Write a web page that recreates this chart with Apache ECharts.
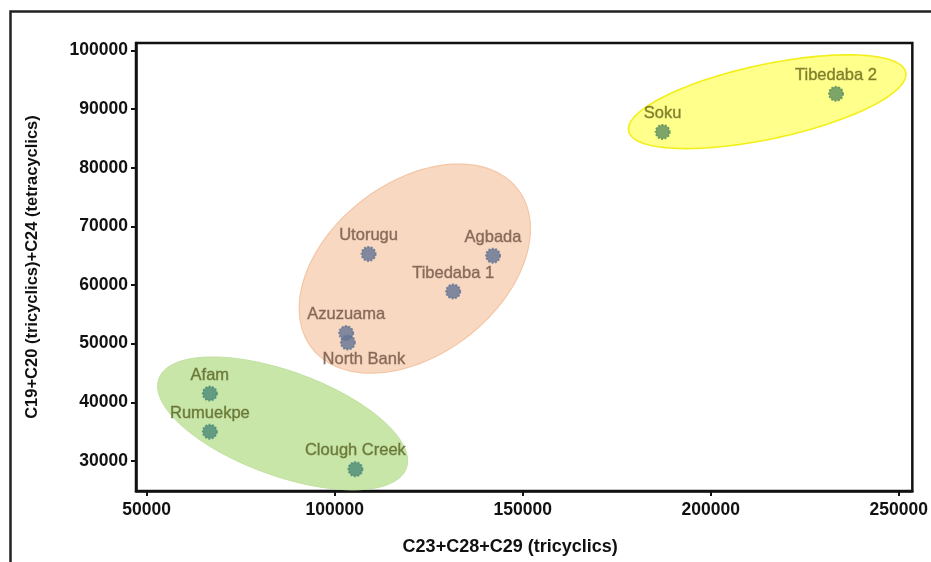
<!DOCTYPE html>
<html>
<head>
<meta charset="utf-8">
<script src="https://cdn.jsdelivr.net/npm/echarts@6/dist/echarts.min.js"></script>
<style>html,body{margin:0;padding:0;background:#fff;}#c{width:931px;height:562px;}</style>
</head>
<body>
<div id="c"></div>
<script>
// ---- data ----
const xTicks = [50000, 100000, 150000, 200000, 250000];
const yTicks = [30000, 40000, 50000, 60000, 70000, 80000, 90000, 100000];

const greenNames = ['Afam', 'Rumuekpe', 'Clough Creek'];
const greenX = [66800, 66800, 105500];
const greenY = [41500, 35000, 28600];

const orangeNames = ['Utorugu', 'Agbada', 'Tibedaba 1', 'Azuzuama', 'North Bank'];
const orangeX = [109000, 142100, 131500, 103050, 103500];
const orangeY = [65300, 65000, 58900, 51800, 50200];

const yellowNames = ['Soku', 'Tibedaba 2'];
const yellowX = [187200, 233300];
const yellowY = [86100, 92600];

// group ellipse centres (data units)
const ellipseX = [86150, 121300, 215000];
const ellipseY = [36400, 62800, 91250];

// ---- build ----
function pts(xs, ys, names) {
  return xs.map((x, i) => ({ value: [x, ys[i]], name: names[i] }));
}
const ellipseLook = [
  { a: 131.6, b: 52.2, ang: -19.9, fill: '#c8e6a8', stroke: '#c2e0a0', lw: 1 },
  { a: 130, b: 86, ang: 37.6, fill: '#f9d8c2', stroke: '#f3c6a6', lw: 1.2 },
  { a: 141.6, b: 37.3, ang: 12.0, fill: '#ffff8c', stroke: '#f2ef1a', lw: 1.6 }
];

const orangeData = pts(orangeX, orangeY, orangeNames);
orangeData[4].label = { position: 'bottom', distance: 0, offset: [16, 0] };

function labelStyle(color) {
  return {
    show: true, position: 'top', distance: 2,
    formatter: p => p.name,
    color: color, fontFamily: 'Liberation Sans, Arial, sans-serif',
    fontSize: 16.5, textBorderColor: 'rgba(50,40,20,0.35)', textBorderWidth: 0.8
  };
}
function markStyle(color) {
  return { color: color, borderColor: color, borderWidth: 2, borderType: [2, 1.5] };
}

const chart = echarts.init(document.getElementById('c'), null, { renderer: 'canvas' });
const axisFont = { fontFamily: 'Liberation Sans, Arial, sans-serif', fontWeight: 'bold', color: '#111' };

chart.setOption({
  animation: false,
  backgroundColor: '#fff',
  graphic: [{
    type: 'rect', left: 8, top: 9, z: -10,
    shape: { width: 960, height: 600 },
    style: { fill: 'none', stroke: '#222', lineWidth: 2.5 }
  }],
  grid: {
    left: 136, top: 43, right: 17, bottom: 71,
    show: true, borderColor: '#111', borderWidth: 2.5, backgroundColor: 'transparent'
  },
  xAxis: {
    type: 'value', min: 47160, max: 253600,
    name: 'C23+C28+C29 (tricyclics)', nameLocation: 'middle', nameGap: 47,
    nameTextStyle: Object.assign({ fontSize: 18, padding: [0, 28, 0, 0] }, axisFont),
    axisLine: { show: true, onZero: false, lineStyle: { color: '#111', width: 2.5 } },
    axisTick: { show: true, length: 5, lineStyle: { color: '#111', width: 2 }, customValues: xTicks },
    axisLabel: Object.assign({ fontSize: 17.5, margin: 10, customValues: xTicks, formatter: v => String(v) }, axisFont),
    splitLine: { show: false }
  },
  yAxis: {
    type: 'value', min: 24880, max: 101260,
    name: 'C19+C20 (tricyclics)+C24 (tetracyclics)', nameLocation: 'middle', nameGap: 95,
    nameTextStyle: Object.assign({ fontSize: 16.5 }, axisFont),
    axisLine: { show: true, onZero: false, lineStyle: { color: '#111', width: 2.5 } },
    axisTick: { show: true, length: 5, lineStyle: { color: '#111', width: 2 }, customValues: yTicks },
    axisLabel: Object.assign({ fontSize: 17.5, margin: 8, customValues: yTicks, formatter: v => String(v) }, axisFont),
    splitLine: { show: false }
  },
  series: [
    {
      type: 'custom', z: 1, silent: true,
      data: ellipseX.map((x, i) => [x, ellipseY[i]]),
      renderItem: function (params, api) {
        const c = api.coord([api.value(0), api.value(1)]);
        const e = ellipseLook[params.dataIndex];
        const th = e.ang * Math.PI / 180;
        const points = [];
        for (let k = 0; k < 180; k++) {
          const t = k / 180 * Math.PI * 2;
          const ex = e.a * Math.cos(t), ey = e.b * Math.sin(t);
          points.push([c[0] + ex * Math.cos(th) - ey * Math.sin(th),
                       c[1] - (ex * Math.sin(th) + ey * Math.cos(th))]);
        }
        return { type: 'polygon', shape: { points: points },
                 style: { fill: e.fill, stroke: e.stroke, lineWidth: e.lw } };
      }
    },
    {
      type: 'scatter', z: 3, symbol: 'circle', symbolSize: 14,
      data: pts(greenX, greenY, greenNames),
      itemStyle: markStyle('#4b8a78'), label: labelStyle('#56651a')
    },
    {
      type: 'scatter', z: 3, symbol: 'circle', symbolSize: 14,
      data: orangeData,
      itemStyle: markStyle('#637494'), label: labelStyle('#725244')
    },
    {
      type: 'scatter', z: 3, symbol: 'circle', symbolSize: 14,
      data: pts(yellowX, yellowY, yellowNames),
      itemStyle: markStyle('#5b8e5e'), label: labelStyle('#666612')
    }
  ]
});
</script>
</body>
</html>
